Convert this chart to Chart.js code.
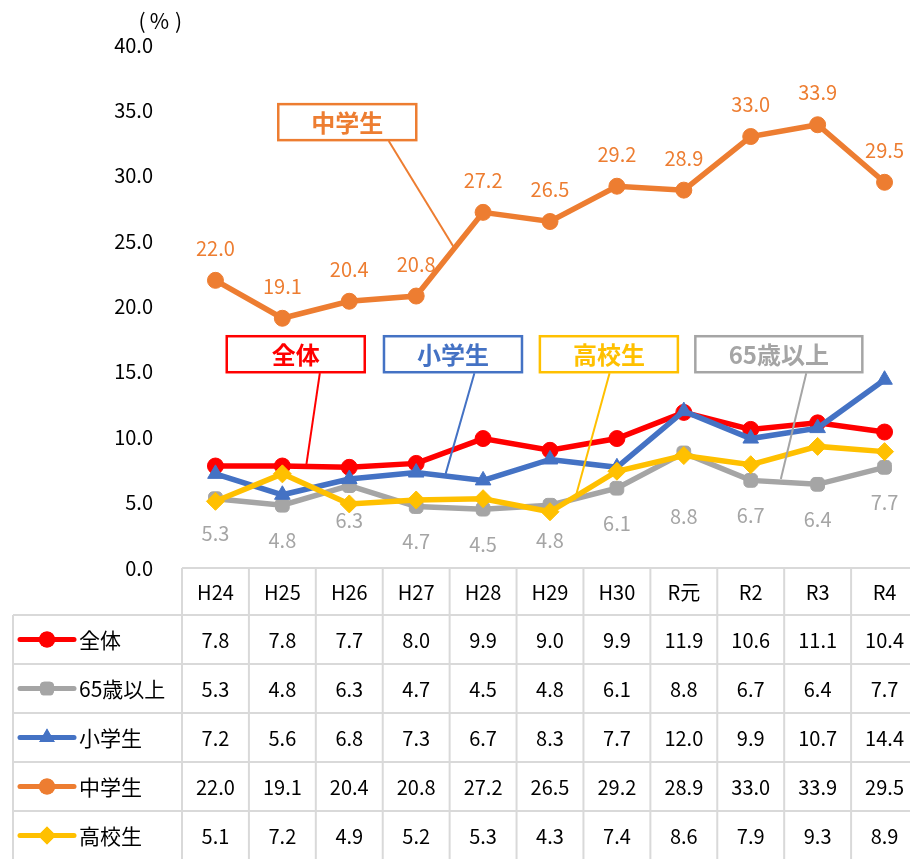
<!DOCTYPE html>
<html>
<head>
<meta charset="utf-8">
<script src="https://cdn.jsdelivr.net/npm/chart.js@4"></script>
<style>
  body { margin: 0; background: #fff; overflow: hidden; }
  #wrap { width: 918px; height: 859px; }
</style>
</head>
<body>
<div id="wrap"><canvas id="c" width="918" height="859"></canvas></div>
<script>
const years = ['H24', 'H25', 'H26', 'H27', 'H28', 'H29', 'H30', 'R元', 'R2', 'R3', 'R4'];
const zentai = [7.8, 7.8, 7.7, 8.0, 9.9, 9.0, 9.9, 11.9, 10.6, 11.1, 10.4];
const over65 = [5.3, 4.8, 6.3, 4.7, 4.5, 4.8, 6.1, 8.8, 6.7, 6.4, 7.7];
const shogaku = [7.2, 5.6, 6.8, 7.3, 6.7, 8.3, 7.7, 12.0, 9.9, 10.7, 14.4];
const chugaku = [22.0, 19.1, 20.4, 20.8, 27.2, 26.5, 29.2, 28.9, 33.0, 33.9, 29.5];
const koko = [5.1, 7.2, 4.9, 5.2, 5.3, 4.3, 7.4, 8.6, 7.9, 9.3, 8.9];

const FONT = '"Noto Sans CJK JP", "Noto Sans", sans-serif';

// table rows, in the order of the reference table
const rows = [
  { name: '全体', data: zentai, color: '#FF0000', style: 'circle', r: 8, order: 4 },
  { name: '65歳以上', data: over65, color: '#A5A5A5', style: 'rectRounded', r: 8, order: 3 },
  { name: '小学生', data: shogaku, color: '#4472C4', style: 'triangle', r: 9, order: 2 },
  { name: '中学生', data: chugaku, color: '#ED7D31', style: 'circle', r: 8, order: 1 },
  { name: '高校生', data: koko, color: '#FFC000', style: 'rectRot', r: 9, order: 0 }
];

// callout boxes: centre and leader end in data units (category index, %)
const callouts = [
  { text: '中学生', color: '#ED7D31', cx: 1.97, cy: 34.1, w: 138, from: [2.59, 32.65], to: [3.56, 24.55] },
  { text: '全体', color: '#FF0000', cx: 1.2, cy: 16.35, w: 138, from: [1.56, 14.9], to: [1.36, 7.95] },
  { text: '小学生', color: '#4472C4', cx: 3.55, cy: 16.35, w: 138, from: [3.87, 14.9], to: [3.44, 7.2] },
  { text: '高校生', color: '#FFC000', cx: 5.88, cy: 16.35, w: 138, from: [5.89, 14.9], to: [5.37, 5.2] },
  { text: '65歳以上', color: '#A5A5A5', cx: 8.42, cy: 16.35, w: 167, from: [8.83, 14.9], to: [8.45, 6.8] }
];

const extras = {
  id: 'extras',
  afterDatasetsDraw(chart) {
    const ctx = chart.ctx;
    const x = chart.scales.x, y = chart.scales.y;
    ctx.save();
    ctx.textAlign = 'center';
    ctx.textBaseline = 'middle';
    ctx.font = '20px ' + FONT;
    // value labels: 中学生 above, 65歳以上 below
    const mOrange = chart.getDatasetMeta(3);
    ctx.fillStyle = '#ED7D31';
    mOrange.data.forEach((p, i) => ctx.fillText(chugaku[i].toFixed(1), p.x, p.y - 32));
    const mGray = chart.getDatasetMeta(1);
    ctx.fillStyle = '#A5A5A5';
    mGray.data.forEach((p, i) => ctx.fillText(over65[i].toFixed(1), p.x, p.y + (i === 7 ? 63 : 35)));

    // callouts
    callouts.forEach(c => {
      ctx.strokeStyle = c.color;
      ctx.lineWidth = 2;
      ctx.beginPath();
      ctx.moveTo(x.getPixelForValue(c.from[0]), y.getPixelForValue(c.from[1]));
      ctx.lineTo(x.getPixelForValue(c.to[0]), y.getPixelForValue(c.to[1]));
      ctx.stroke();
      const px = x.getPixelForValue(c.cx), py = y.getPixelForValue(c.cy);
      ctx.fillStyle = '#fff';
      ctx.fillRect(px - c.w / 2, py - 18, c.w, 36);
      ctx.lineWidth = 2.5;
      ctx.strokeRect(px - c.w / 2, py - 18, c.w, 36);
      ctx.fillStyle = c.color;
      ctx.font = 'bold 24px ' + FONT;
      ctx.fillText(c.text, px, py + 1);
    });
    ctx.restore();
  },
  afterDraw(chart) {
    const ctx = chart.ctx;
    const x = chart.scales.x;
    const area = chart.chartArea;
    const w = x.getPixelForValue(1) - x.getPixelForValue(0);
    const left0 = x.getPixelForValue(0) - w / 2;
    const top = area.bottom;
    const headH = 47, rowH = 49, legLeft = 13;
    const bottom = top + headH + rowH * rows.length + 2;
    ctx.save();
    ctx.fillStyle = '#000';
    ctx.font = '21px ' + FONT;
    ctx.textAlign = 'center';
    ctx.textBaseline = 'middle';
    ctx.fillText('(', 142, 21);
    ctx.fillText('%', 159.5, 21);
    ctx.fillText(')', 178.5, 21);

    // grid lines
    ctx.strokeStyle = '#D9D9D9';
    ctx.lineWidth = 2;
    ctx.beginPath();
    ctx.moveTo(left0, top); ctx.lineTo(chart.width, top);
    for (let r = 0; r <= rows.length; r++) {
      const yy = top + headH + rowH * r;
      ctx.moveTo(legLeft, yy); ctx.lineTo(chart.width, yy);
    }
    for (let i = 0; i <= years.length; i++) {
      const xx = left0 + w * i;
      ctx.moveTo(xx, top); ctx.lineTo(xx, bottom);
    }
    ctx.moveTo(legLeft, top + headH); ctx.lineTo(legLeft, bottom);
    ctx.stroke();

    // header
    ctx.fillStyle = '#000';
    ctx.font = '20px ' + FONT;
    years.forEach((t, i) => ctx.fillText(t, x.getPixelForValue(i), top + headH / 2 + 1));

    // rows
    rows.forEach((row, r) => {
      const cy = top + headH + rowH * r + rowH / 2 + 1;
      ctx.strokeStyle = row.color;
      ctx.lineWidth = 5;
      ctx.lineCap = 'round';
      ctx.beginPath();
      ctx.moveTo(20, cy - 1); ctx.lineTo(74, cy - 1);
      ctx.stroke();
      ctx.fillStyle = row.color;
      Chart.helpers.drawPoint(ctx, { pointStyle: row.style, radius: row.r, borderWidth: 0 }, 47, cy - 1);
      ctx.fill();
      ctx.fillStyle = '#000';
      ctx.textAlign = 'left';
      ctx.font = '21px ' + FONT;
      ctx.fillText(row.name, 79, cy);
      ctx.textAlign = 'center';
      ctx.font = '20px ' + FONT;
      row.data.forEach((v, i) => ctx.fillText(v.toFixed(1), x.getPixelForValue(i), cy));
    });
    ctx.restore();
  }
};

new Chart(document.getElementById('c'), {
  type: 'line',
  data: {
    labels: years,
    datasets: rows.map(row => ({
      label: row.name,
      data: row.data,
      borderColor: row.color,
      backgroundColor: row.color,
      pointBackgroundColor: row.color,
      pointBorderColor: row.color,
      pointBorderWidth: 1,
      pointStyle: row.style,
      pointRadius: row.r,
      borderWidth: 5.5,
      order: row.order,
      tension: 0
    }))
  },
  options: {
    responsive: false,
    animation: false,
    layout: { autoPadding: false, padding: { top: 45, bottom: 291, left: 0, right: 0 } },
    plugins: { legend: { display: false }, tooltip: { enabled: false } },
    scales: {
      x: { display: false, offset: true },
      y: {
        min: 0,
        max: 40,
        ticks: {
          stepSize: 5,
          padding: 29,
          color: '#000',
          font: { size: 20, family: FONT },
          callback: v => v.toFixed(1)
        },
        grid: { display: false, drawTicks: false },
        border: { display: false },
        afterFit(s) { s.width = 182; }
      }
    }
  },
  plugins: [extras]
});
</script>
</body>
</html>
